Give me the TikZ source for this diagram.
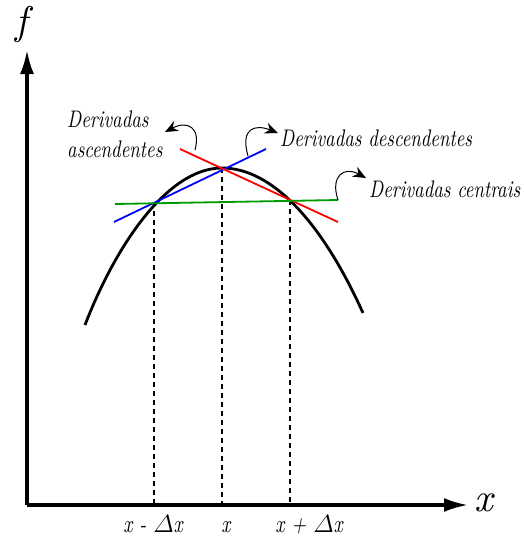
\documentclass[tikz,border=0pt]{standalone}
\usepackage{amsmath}
\usepackage{fontspec}
\newfontfamily\rotfont{lmroman10-italic.otf}[FakeStretch=0.78]
\newfontfamily\eixofont{lmroman10-italic.otf}
\usetikzlibrary{positioning,arrows.meta,calc}

\begin{document}
\begin{tikzpicture}[
    x=1pt, y=-1pt,
    eixo/.style={line width=3.2pt, -{Latex[length=24pt, width=14pt]}},
    curva/.style={line width=2.8pt},
    guia/.style={line width=1.5pt, dash pattern=on 5pt off 4pt},
    tang/.style={line width=1.8pt},
    seta/.style={line width=1pt, -{Stealth[length=13pt, width=11pt]}},
    rotulo/.style={font=\rotfont\fontsize{24}{30}\selectfont, inner sep=0pt, align=left},
    marca/.style={font=\rotfont\fontsize{25}{25}\selectfont, inner sep=0pt},
    grande/.style={font=\eixofont\fontsize{40}{40}\selectfont, inner sep=0pt},
]
    \useasboundingbox (0,0) rectangle (524,538);
    % eixos
    \coordinate (o) at (27,505);
    \coordinate (ytop) at (27,50);
    \coordinate (xend) at (468,505);
    \draw[eixo] (o) -- (ytop);
    \draw[eixo] (o) -- (xend);
    \node[grande] (lf) at (22,24) {f};
    \node[grande] (lx) at (484,503) {x};
    % pontos da curva
    \coordinate (pl) at (154,202);
    \coordinate (pc) at (222,168);
    \coordinate (pr) at (290,200);
    \draw[curva] (85,325) .. controls (113,252) and (165,168) .. (pc)
        .. controls (272,168) and (322,222) .. (363,313);
    % linhas tracejadas
    \foreach \p in {pl,pc,pr} \draw[guia] (\p) -- (\p |- o);
    % retas
    \coordinate (b1) at (114,222);
    \coordinate (b2) at (266,149);
    \coordinate (r1) at (180,149);
    \coordinate (r2) at (338,222);
    \coordinate (g1) at (115,204);
    \coordinate (g2) at (338,200);
    \draw[tang, blue] (b1) -- (b2);
    \draw[tang, red] (r1) -- (r2);
    \draw[tang, green!60!black] (g1) -- (g2);
    % rotulos
    \node[rotulo, anchor=north west] (asc) at (67,111) {Derivadas\\ascendentes};
    \node[rotulo, anchor=base west] (desc) at (280,146) {Derivadas descendentes};
    \node[rotulo, anchor=base west] (cen) at (369,197) {Derivadas centrais};
    \coordinate (s1) at (195,150);
    \coordinate (t1) at (165,132);
    \coordinate (s2) at (248,156);
    \coordinate (t2) at (278,133);
    \coordinate (t3) at (366,178);
    \draw[seta] (s1) .. controls (201,128) and (188,120) .. (t1);
    \draw[seta] (s2) .. controls (240,128) and (255,124) .. (t2);
    \draw[seta] (g2) .. controls (330,176) and (344,166) .. (t3);
    % marcas do eixo x
    \node[marca, anchor=base] (m1) at (153,532) {x - $\varDelta$x};
    \node[marca, anchor=base] (m2) at (226,532) {x};
    \node[marca, anchor=base] (m3) at (309,532) {x + $\varDelta$x};
\end{tikzpicture}
\end{document}
